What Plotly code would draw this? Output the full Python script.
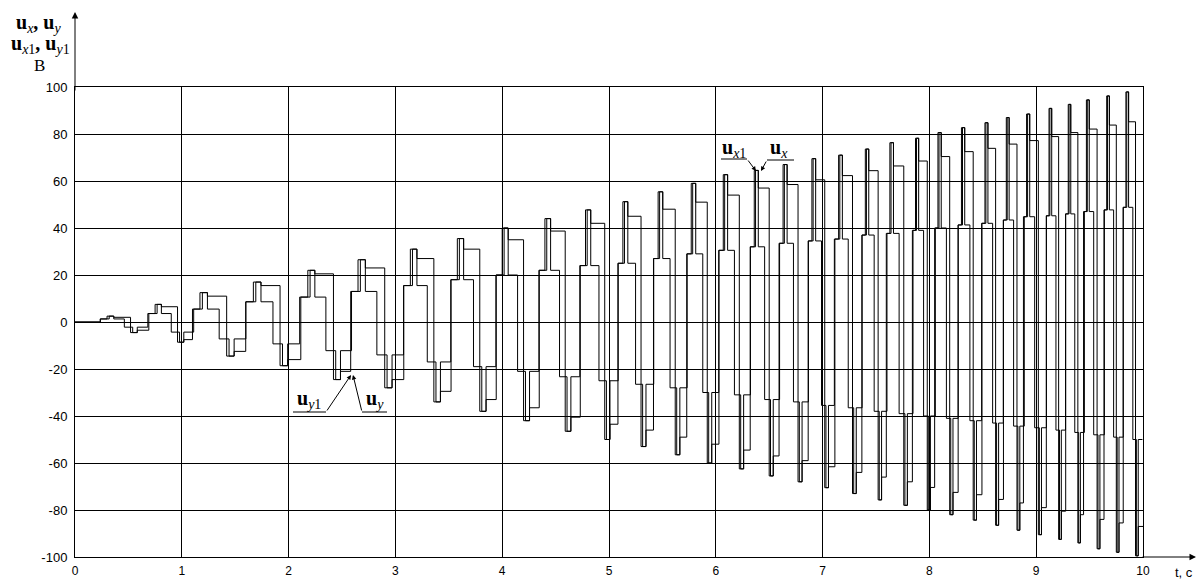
import plotly.graph_objects as go

# ---- data ----
# positive peak times (s) and levels (V)
tp = [0.30, 0.75, 1.17, 1.67, 2.18, 2.65, 3.14, 3.58, 4.00, 4.40, 4.78, 5.13, 5.46, 5.77, 6.07, 6.36,
      6.63, 6.90, 7.15, 7.40, 7.63, 7.87, 8.08, 8.30, 8.52, 8.72, 8.91, 9.12, 9.30, 9.47, 9.66, 9.84]
pos_peak = [2.5, 7.5, 12.5, 17, 22, 26.5, 31, 35.5, 40, 44, 47.7, 51.2, 55.4, 59, 62.7, 64.5,
            67, 69.5, 71, 73.6, 76.3, 78.2, 80.6, 82.7, 84.8, 87, 88.5, 90.9, 92.6, 94.5, 96.2, 97.9]
pos_shelf = [2.0, 6.5, 11, 15.5, 20.5, 23, 27, 31, 35, 38.7, 42, 45, 48, 51, 54, 57,
             58.5, 60.5, 62.3, 64.4, 66.4, 68.5, 70.4, 72.5, 73.9, 75.7, 77.2, 78.9, 80.6, 82.1, 83.8, 85.2]
pos_low = [1.3, 3.6, 5.5, 8.6, 10.6, 13, 15.5, 18, 20, 22, 24, 25, 27, 29, 30.5, 32,
           33.5, 34.5, 35.3, 37, 37.7, 39, 40, 41.3, 42, 43.4, 44.8, 45.2, 46, 47, 47.7, 48.8]
# negative trough times (s) and levels (V)
tn = [0.52, 0.96, 1.42, 1.92, 2.42, 2.90, 3.36, 3.79, 4.20, 4.59, 4.96, 5.30, 5.62, 5.92, 6.22, 6.50,
      6.77, 7.02, 7.28, 7.52, 7.76, 7.98, 8.19, 8.41, 8.62, 8.82, 9.02, 9.21, 9.39, 9.57, 9.75, 9.93]
neg_trough = [-4.5, -8.6, -14.5, -18.6, -24.5, -28, -34, -38, -42, -46.5, -50, -53, -56.5, -60, -62.5, -65.5,
              -68, -70.5, -73, -75.7, -78, -80, -82, -84.3, -86.5, -88.6, -90.5, -92.5, -94, -96.5, -98, -99.5]
neg_shelf = [-3.5, -7.5, -12.5, -16, -21, -24.5, -29.5, -33, -36.5, -40.5, -43.5, -46, -49, -52, -54.5, -57,
             -59, -61.6, -64, -66, -68, -70.4, -72.5, -73.5, -75.5, -77, -79, -80.5, -82, -84, -85.5, -87]
neg_low = [-2.2, -4.3, -7.2, -9.3, -12.2, -14, -17, -19, -21, -23.3, -25, -26.5, -28, -30, -31, -33,
           -34, -35.5, -36.5, -38, -39, -40, -41, -42, -43, -44.3, -45, -46, -47, -48, -49, -50]

x_ticks = [0, 1, 2, 3, 4, 5, 6, 7, 8, 9, 10]
y_ticks = [-100, -80, -60, -40, -20, 0, 20, 40, 60, 80, 100]

T_END = 10.0
n = len(tp)
periods = [tp[k + 1] - tp[k] for k in range(n - 1)] + [2 * (tn[-1] - tp[-1])]

ux_t, ux_v = [0.0], [0.0]      # positive half of the main staircase
uy_t, uy_v = [], []            # negative half of the main staircase
ux1_t, ux1_v = [0.0], [0.0]    # positive half of the second staircase
uy1_t, uy1_v = [], []          # negative half of the second staircase

for k in range(n):
    P = periods[k]
    s = tp[k] - 0.14 * P
    prev = neg_shelf[k - 1] if k > 0 else 0.0
    ux_t += [s, s, tp[k], tp[k] + 0.14 * P, tn[k], tn[k], None]
    ux_v += [prev, pos_low[k], pos_peak[k], pos_shelf[k], pos_shelf[k], neg_trough[k], None]
    end = tp[k + 1] - 0.14 * periods[k + 1] if k + 1 < n else T_END
    uy_t += [tn[k], tn[k] + 0.14 * P, end, None]
    uy_v += [neg_trough[k], neg_shelf[k], neg_shelf[k], None]

    s1 = tn[k - 1] + 0.36 * periods[k - 1] if k > 0 else s
    prev1 = neg_low[k - 1] if k > 0 else 0.0
    c = tp[k] + 0.36 * P
    ux1_t += [s1, s1, tp[k] + 0.045 * P, tp[k] + 0.14 * P, c, c, None]
    ux1_v += [prev1, pos_low[k], pos_peak[k], pos_low[k], pos_low[k], neg_low[k], None]
    e1 = min(tn[k] + 0.36 * P, T_END)
    uy1_t += [c, tn[k] + 0.045 * P, tn[k] + 0.14 * P, e1, None]
    uy1_v += [neg_low[k], neg_trough[k], neg_low[k], neg_low[k], None]

fig = go.Figure()
for name, xs, ys in [("u_x", ux_t, ux_v), ("u_x1", ux1_t, ux1_v),
                     ("u_y", uy_t, uy_v), ("u_y1", uy1_t, uy1_v)]:
    fig.add_trace(go.Scatter(x=xs, y=ys, mode="lines", name=name, line_shape="hv",
                             connectgaps=False, line=dict(color="black", width=1), hoverinfo="skip"))


# pixel helpers (plot area: x 75..1143, y 87..557)
def PX(px):
    return (px - 75) / 106.8


def PY(py):
    return (322 - py) / 2.35


def paperx(px):
    return (px - 75) / 1068.0


def papery(py):
    return (557 - py) / 470.0


serif = "Liberation Serif"
annots = []
# axis title top-left
annots.append(dict(xref="paper", yref="paper", x=paperx(38), y=papery(23), xanchor="center", yanchor="middle",
                   text="<b>u</b><sub><i>x</i></sub><b>, u</b><sub><i>y</i></sub>", showarrow=False,
                   font=dict(family=serif, size=20, color="black")))
annots.append(dict(xref="paper", yref="paper", x=paperx(40), y=papery(45), xanchor="center", yanchor="middle",
                   text="<b>u</b><sub><i>x</i>1</sub><b>, u</b><sub><i>y</i>1</sub>", showarrow=False,
                   font=dict(family=serif, size=20, color="black")))
annots.append(dict(xref="paper", yref="paper", x=paperx(39), y=papery(65), xanchor="center", yanchor="middle",
                   text="B", showarrow=False, font=dict(family=serif, size=17, color="black")))
# x-axis unit
annots.append(dict(xref="paper", yref="paper", x=paperx(1184), y=papery(572), xanchor="center", yanchor="middle",
                   text="t, c", showarrow=False, font=dict(family="Liberation Sans", size=13, color="black")))
# axis arrows
annots.append(dict(xref="paper", yref="paper", x=paperx(75), y=papery(12), ax=0, ay=80, text="",
                   showarrow=True, arrowhead=2, arrowsize=1.3, arrowwidth=1, arrowcolor="black"))
annots.append(dict(xref="paper", yref="paper", x=paperx(1196), y=papery(557), ax=-55, ay=0, text="",
                   showarrow=True, arrowhead=2, arrowsize=1.3, arrowwidth=1, arrowcolor="black"))

# curve labels
lbl_font = dict(family=serif, size=20, color="black")
annots.append(dict(x=PX(734), y=PY(148), text="<b>u</b><sub><i>x</i>1</sub>", showarrow=False, font=lbl_font))
annots.append(dict(x=PX(779), y=PY(148), text="<b>u</b><sub><i>x</i></sub>", showarrow=False, font=lbl_font))
annots.append(dict(x=PX(309), y=PY(399), text="<b>u</b><sub><i>y</i>1</sub>", showarrow=False, font=lbl_font))
annots.append(dict(x=PX(375), y=PY(399), text="<b>u</b><sub><i>y</i></sub>", showarrow=False, font=lbl_font))
# pointer arrows
for (x0, y0, x1, y1) in [(747, 159, 756, 171), (767, 160, 761, 171),
                         (326, 412, 351, 375), (362, 412, 353, 375)]:
    annots.append(dict(x=PX(x1), y=PY(y1), ax=PX(x0), ay=PY(y0), axref="x", ayref="y", text="",
                       showarrow=True, arrowhead=2, arrowsize=0.9, arrowwidth=1, arrowcolor="black"))

shapes = []
for (x0, y0, x1, y1) in [(721, 159, 747, 159), (767, 160, 794, 160),
                         (293, 412, 326, 412), (362, 412, 387, 412)]:
    shapes.append(dict(type="line", x0=PX(x0), y0=PY(y0), x1=PX(x1), y1=PY(y1), xref="x", yref="y",
                       line=dict(color="black", width=1)))

fig.update_layout(
    width=1200, height=581,
    margin=dict(l=75, r=57, t=87, b=24),
    plot_bgcolor="white", paper_bgcolor="white",
    showlegend=False,
    annotations=annots, shapes=shapes,
    font=dict(family="Liberation Sans", size=12, color="black"),
)
fig.update_xaxes(range=[0, 10], tickvals=x_ticks, ticktext=[str(v) for v in x_ticks],
                 showgrid=True, gridcolor="black", gridwidth=1, zeroline=False,
                 showline=True, linecolor="black", linewidth=1, mirror=True, automargin=False,
                 ticks="outside", ticklen=3, tickcolor="rgba(255,255,255,0)", tickfont=dict(size=12))
fig.update_yaxes(range=[-100, 100], tickvals=y_ticks, ticktext=[str(v) for v in y_ticks],
                 showgrid=True, gridcolor="black", gridwidth=1, zeroline=False,
                 showline=True, linecolor="black", linewidth=1, mirror=True, automargin=False,
                 ticks="outside", ticklen=4, tickcolor="rgba(255,255,255,0)", tickfont=dict(size=13))

fig.write_html("out.html")
